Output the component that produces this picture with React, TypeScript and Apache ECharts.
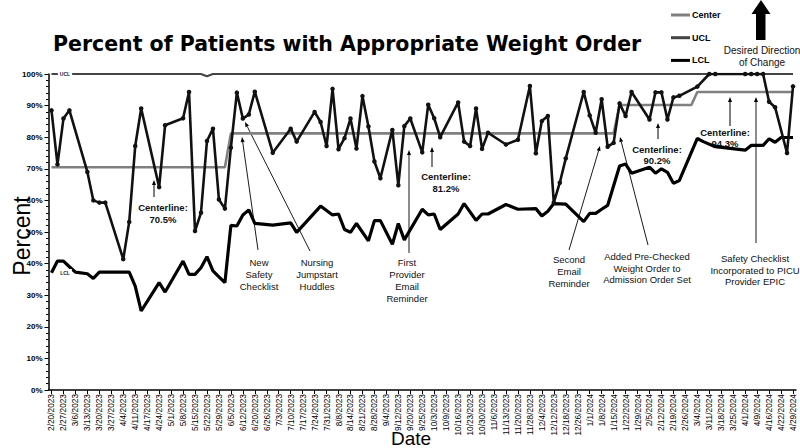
import React, { useEffect, useRef } from "react";
import * as echarts from "echarts";

const tickLabels = [
  "2/20/2023","2/27/2023","3/6/2023","3/13/2023","3/20/2023","3/27/2023","4/4/2023","4/11/2023","4/17/2023","4/24/2023",
  "5/1/2023","5/8/2023","5/15/2023","5/22/2023","5/29/2023","6/5/2023","6/12/2023","6/20/2023","6/26/2023","7/3/2023",
  "7/10/2023","7/17/2023","7/24/2023","7/31/2023","8/8/2023","8/14/2023","8/21/2023","8/28/2023","9/4/2023","9/12/2023",
  "9/20/2023","9/25/2023","10/3/2023","10/9/2023","10/16/2023","10/23/2023","10/30/2023","11/6/2023","11/13/2023","11/20/2023",
  "11/28/2023","12/4/2023","12/12/2023","12/18/2023","12/26/2023","1/1/2024","1/8/2024","1/15/2024","1/22/2024","1/29/2024",
  "2/5/2024","2/12/2024","2/19/2024","2/26/2024","3/4/2024","3/11/2024","3/18/2024","3/25/2024","4/1/2024","4/9/2024",
  "4/16/2024","4/22/2024","4/29/2024"
];

// one category per half-week; every other category carries a date label
const categories = Array.from({ length: tickLabels.length * 2 - 1 }, (_, i) => "c" + i);

const percent = [
  88.5, 71.4, 85.9, 88.5, null, null, 69.0, 60.0, 59.3, 59.3,
  null, null, 41.4, 53.2, 77.2, 89.1, null, null, 64.2, 83.8,
  null, null, 86.0, 94.3, 50.3, 56.1, 78.8, 82.7, 60.3, 57.4,
  76.7, 94.1, 85.9, 87.2, 94.4, null, null, 75.1, null, null,
  82.7, 78.6, null, null, 88.0, 84.8, 77.2, 95.3, 76.2, 79.7,
  85.9, 76.4, 93.0, 83.4, 72.3, 67.0, null, 82.3, 64.8, 83.5,
  85.9, null, 75.2, 90.3, 86.0, 80.0, null, null, 91.0, 78.6,
  77.2, 89.1, 76.3, 81.4, null, null, 77.7, null, 79.2, null,
  96.2, 74.9, 85.1, 86.7, 59.3, 65.6, 73.3, null, null, 94.3,
  86.9, 81.4, 92.0, 77.0, 78.2, 90.7, 86.7, 94.3, null, null,
  85.6, 94.2, 94.2, 85.6, 92.6, 93.1, null, null, 96.0, null,
  100, 100, null, null, null, null, 100, 100, 100, 100,
  91.2, 89.5, null, 75.0, 96.1
];

const lcl = [
  37.1, 40.8, 40.8, 39.0, 37.3, null, 36.8, 35.3, 37.3, 37.3,
  null, null, null, 37.3, 32.9, 25.0, null, null, 34.0, 31.0,
  null, null, 40.8, 36.6, 36.6, 38.7, 42.2, 37.7, 35.8, 34.0,
  52.1, 51.9, 55.4, 57.0, 52.7, null, null, 52.2, null, null,
  52.9, 49.9, null, null, null, 58.2, null, 55.4, 55.7, 50.8,
  49.9, 52.7, null, 47.2, 53.6, 53.6, null, 46.1, 52.7, 47.5,
  null, null, 57.2, 55.4, 55.7, 50.8, null, null, 55.7, 59.0,
  null, 53.7, 55.7, 55.7, null, null, 58.7, null, 57.2, null,
  null, 57.4, 55.1, 56.6, 59.0, null, 58.8, null, null, 53.3,
  55.9, 55.9, 57.2, 58.4, null, 70.9, 71.5, 68.6, null, null,
  70.5, 68.6, 70.0, 68.9, 65.4, 66.3, null, null, 79.6, 78.6,
  null, 77.0, null, null, null, null, 75.9, 77.4, null, 77.4,
  79.5, 78.4, 79.9, null, 79.9
];

// [category index, value] break points of the step lines
const centerBreaks = [[0, 70.5], [29, 70.5], [30, 81.2], [94, 81.2], [95, 90.2], [107, 90.2], [108, 94.3], [124, 94.3]];
const uclBreaks = [[0, 100], [25, 100], [26, 99.3], [27, 100], [124, 100]];

const yTicks = [0, 10, 20, 30, 40, 50, 60, 70, 80, 90, 100];

function fromBreaks(b: number[][]) {
  const arr: (number | null)[] = categories.map(() => null);
  b.forEach(([i, v]) => (arr[i] = v));
  return arr;
}

function arrow(x1: number, y1: number, x2: number, y2: number, w: number, hl: number, hw: number) {
  const a = Math.atan2(y2 - y1, x2 - x1);
  const bx = x2 - hl * Math.cos(a);
  const by = y2 - hl * Math.sin(a);
  const px = (-Math.sin(a) * hw) / 2;
  const py = (Math.cos(a) * hw) / 2;
  return [
    { type: "line", silent: true, shape: { x1, y1, x2: bx, y2: by }, style: { stroke: "#000", lineWidth: w } },
    { type: "polygon", silent: true, shape: { points: [[x2, y2], [bx + px, by + py], [bx - px, by - py]] }, style: { fill: "#000" } },
  ];
}

function label(x: number, y: number, text: string, bold: boolean, size = 9) {
  return {
    type: "text",
    silent: true,
    x,
    y,
    style: {
      text,
      fill: "#111",
      font: `${bold ? "bold " : ""}${size}px "Liberation Sans", Arial, sans-serif`,
      align: "center",
      verticalAlign: "middle",
      lineHeight: 11.8,
    },
  };
}

export default function App() {
  const ref = useRef<HTMLDivElement>(null);
  useEffect(() => {
    if (!ref.current) return;
    const chart = echarts.init(ref.current, null, { renderer: "svg" });
    const font = '"Liberation Sans", Arial, sans-serif';
    const graphic: any[] = [
      // axis titles
      { type: "text", silent: true, x: 411, y: 438, style: { text: "Date", font: `19px ${font}`, fill: "#000", align: "center", verticalAlign: "middle" } },
      { type: "text", silent: true, x: 22, y: 236, rotation: Math.PI / 2, style: { text: "Percent", font: `23px ${font}`, fill: "#000", align: "center", verticalAlign: "middle" } },
      // in-line series labels
      { type: "text", silent: true, x: 65, y: 73.5, z: 10, style: { text: "UCL", font: `bold 5px ${font}`, fill: "#222", align: "center", verticalAlign: "middle", backgroundColor: "#fff", padding: [1, 2] } },
      { type: "text", silent: true, x: 65, y: 272.5, z: 10, style: { text: "LCL", font: `bold 5px ${font}`, fill: "#222", align: "center", verticalAlign: "middle", backgroundColor: "#fff", padding: [1, 2] } },
      // desired direction arrow
      { type: "polygon", silent: true, shape: { points: [[761, 0], [770.5, 14], [765.5, 14], [765.5, 40], [756, 40], [756, 14], [751.5, 14]] }, style: { fill: "#000" } },
      label(762, 50.5, "Desired Direction", false, 10),
      label(762, 62, "of Change", false, 10),
      // centerline notes
      label(163, 207, "Centerline:", true, 9.5),
      label(163, 219, "70.5%", true, 9.5),
      ...arrow(154, 197, 154, 180, 1, 5, 4),
      label(446, 176.5, "Centerline:", true, 9.5),
      label(446, 188, "81.2%", true, 9.5),
      ...arrow(432, 167, 432, 147, 1, 5, 4),
      label(657, 149.5, "Centerline:", true, 9.5),
      label(657, 160.5, "90.2%", true, 9.5),
      ...arrow(658, 139, 658, 123, 1, 5, 4),
      label(725, 132.5, "Centerline:", true, 9.5),
      label(725, 143.5, "94.3%", true, 9.5),
      ...arrow(730, 126, 730, 97, 1, 5, 4),
      // event notes
      label(259, 274.5, "New\nSafety\nChecklist", false, 9.5),
      ...arrow(258, 250, 242, 137, 0.9, 5, 4),
      label(317, 274.5, "Nursing\nJumpstart\nHuddles", false, 9.5),
      ...arrow(310, 251, 245, 122, 0.9, 5, 4),
      label(407, 280.5, "First\nProvider\nEmail\nReminder", false, 9.5),
      ...arrow(409, 253, 409, 150, 0.9, 5, 4),
      label(569, 271.5, "Second\nEmail\nReminder", false, 9.5),
      ...arrow(569, 250, 600, 146, 0.9, 5, 4),
      label(647, 268, "Added Pre-Checked\nWeight Order to\nAdmission Order Set", false, 9.5),
      ...arrow(648, 245, 620, 137, 0.9, 5, 4),
      label(755, 270, "Safety Checklist\nIncorporated to PICU\nProvider EPIC", false, 9.5),
      ...arrow(756, 243, 756, 97, 0.9, 5, 4),
    ];

    chart.setOption({
      animation: false,
      backgroundColor: "#fff",
      title: {
        text: "Percent of Patients with Appropriate Weight Order",
        left: 48,
        top: 28,
        textStyle: { fontSize: 20.5, fontWeight: "bold", color: "#000", fontFamily: "DejaVu Sans" },
      },
      legend: {
        data: ["Center", "UCL", "LCL"],
        orient: "vertical",
        left: 671,
        top: 9,
        itemWidth: 19,
        itemHeight: 3,
        itemGap: 10.7,
        icon: "rect",
        padding: 0,
        textStyle: { fontSize: 9, fontWeight: "bold", color: "#000", fontFamily: "Liberation Sans", lineHeight: 12, padding: [0, 0, 0, -3] },
      },
      grid: { left: 48.5, top: 74, width: 747.5, height: 316, containLabel: false },
      xAxis: {
        type: "category",
        data: categories,
        boundaryGap: true,
        axisLine: { lineStyle: { color: "#000", width: 1.5 } },
        axisTick: { show: true, interval: 1, alignWithLabel: true, length: 4, lineStyle: { color: "#000" } },
        axisLabel: {
          interval: 0,
          rotate: 90,
          margin: 4,
          fontSize: 8.3,
          color: "#000",
          fontFamily: "Liberation Sans",
          formatter: (_v: string, i: number) => (i % 2 === 0 ? tickLabels[i / 2] : ""),
        },
        splitLine: { show: false },
      },
      yAxis: {
        type: "value",
        min: yTicks[0],
        max: yTicks[yTicks.length - 1],
        interval: 10,
        axisLine: { show: true, lineStyle: { color: "#000", width: 1.5 } },
        axisTick: { show: true, length: 4, lineStyle: { color: "#000" } },
        minorTick: { show: true, splitNumber: 5, length: 2.5, lineStyle: { color: "#000" } },
        axisLabel: { formatter: "{value}%", fontSize: 8, fontWeight: "bold", color: "#000", margin: 6, fontFamily: "Liberation Sans" },
        splitLine: { show: false },
      },
      series: [
        {
          name: "Center",
          type: "line",
          data: fromBreaks(centerBreaks),
          connectNulls: true,
          showSymbol: false,
          symbol: "none",
          lineStyle: { color: "#808080", width: 2.6 },
          itemStyle: { color: "#808080" },
          z: 3,
        },
        {
          name: "UCL",
          type: "line",
          data: fromBreaks(uclBreaks),
          connectNulls: true,
          showSymbol: false,
          symbol: "none",
          lineStyle: { color: "#444", width: 2 },
          itemStyle: { color: "#444" },
          z: 3,
        },
        {
          name: "LCL",
          type: "line",
          data: lcl,
          connectNulls: true,
          showSymbol: false,
          symbol: "none",
          lineStyle: { color: "#000", width: 3.2 },
          itemStyle: { color: "#000" },
          z: 3,
        },
        {
          name: "Percent",
          type: "line",
          data: percent,
          connectNulls: true,
          symbol: "circle",
          symbolSize: 4.5,
          lineStyle: { color: "#111", width: 2.6 },
          itemStyle: { color: "#111" },
          z: 4,
        },
      ],
      graphic,
    });
    return () => chart.dispose();
  }, []);
  return <div ref={ref} style={{ position: "absolute", left: 0, top: 0, width: 800, height: 448 }} />;
}
